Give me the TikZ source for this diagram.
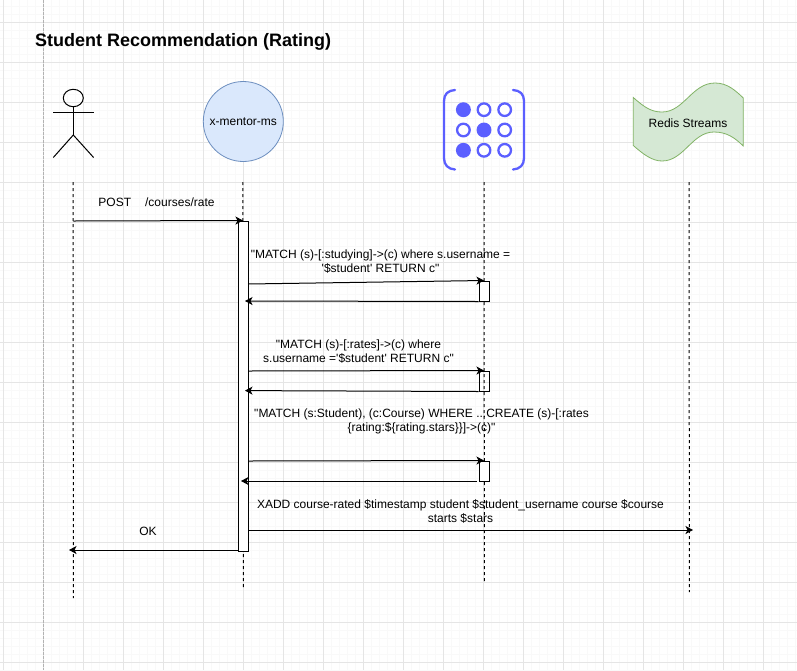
\documentclass[tikz,border=0pt]{standalone}
\usepackage{fontspec}
\usepackage{tikz}
\usetikzlibrary{arrows.meta}
\newfontfamily\diagfont{Liberation Sans}
\definecolor{neoblue}{HTML}{5B5FFF}
\definecolor{mentoredge}{HTML}{6C8EBF}
\definecolor{mentorfill}{HTML}{DAE8FC}
\definecolor{streamedge}{HTML}{82B366}
\definecolor{streamfill}{HTML}{D5E8D4}

\begin{document}
\begin{tikzpicture}[
  x=1pt,y=-1pt,
  every node/.style={font=\diagfont\fontsize{12}{14}\selectfont,align=center,inner sep=0pt},
  ttl/.style={font=\diagfont\bfseries\fontsize{18}{22}\selectfont,anchor=west},
  minorgrid/.style={draw=black!2.5,line width=0.8pt},
  majorgrid/.style={draw=black!10,line width=0.9pt},
  pagebrk/.style={draw=black!30,line width=0.8pt,dash pattern=on 3pt off 1pt},
  stick/.style={draw=black,line width=1pt},
  life/.style={draw=black,line width=1pt,dash pattern=on 3pt off 3pt},
  act/.style={draw=black,fill=white,line width=1pt,minimum width=10pt},
  actopen/.style={act,fill=none},
  msg/.style={draw=black,line width=1pt,-{Stealth[length=7.5pt,width=8pt,inset=2pt]}},
  neoline/.style={draw=neoblue,line width=2.3pt},
  neodot/.style={circle,neoline,minimum size=12.6pt,fill=white},
  neofull/.style={neodot,fill=neoblue}]

\useasboundingbox (0,0) rectangle (797,670);
\fill[white] (0,0) rectangle (797,670);

% ---- page grid ----
\foreach \k in {0,...,99} \draw[minorgrid] ({3.3+8*\k},0)--({3.3+8*\k},670);
\foreach \k in {-2,...,81} \draw[minorgrid] (0,{22+8*\k})--(797,{22+8*\k});
\foreach \k in {0,...,19} \draw[majorgrid] ({3.3+40*\k},0)--({3.3+40*\k},670);
\foreach \k in {0,...,16} \draw[majorgrid] (0,{22+40*\k})--(797,{22+40*\k});
\draw[pagebrk] (43.3,0)--(43.3,670);

\node[ttl] (title) at (35,42.3) {Student Recommendation (Rating)};

% ---- actor ----
\draw[stick] (73.3,98) ellipse (10 and 8.7);
\draw[stick] (73.3,106.7)--(73.3,135);
\draw[stick] (53.3,112)--(93.6,112);
\draw[stick] (53.3,157.5)--(73.3,135)--(93.6,157.5);

% ---- service ----
\node[circle,draw=mentoredge,fill=mentorfill,minimum size=80pt,line width=0.8pt] (mentor) at (243.3,121.5) {x-mentor-ms};

% ---- graph database icon ----
\draw[neoline,line cap=round] (455,90) .. controls (448,90.5) and (444,94) .. (444,101)
  -- (444,158) .. controls (444,165) and (448,169) .. (455,169.5);
\draw[neoline,line cap=round] (513,90) .. controls (520,90.5) and (524,94) .. (524,101)
  -- (524,158) .. controls (524,165) and (520,169) .. (513,169.5);
\node[neofull] (d11) at (463.4,109.7) {};
\node[neodot]  (d12) at (484,109.7)   {};
\node[neodot]  (d13) at (504.7,109.7) {};
\node[neodot]  (d21) at (463.4,130)   {};
\node[neofull] (d22) at (484,130)     {};
\node[neodot]  (d23) at (504.7,130)   {};
\node[neofull] (d31) at (463.4,150.3) {};
\node[neodot]  (d32) at (484,150.3)   {};
\node[neodot]  (d33) at (504.7,150.3) {};

% ---- stream flag ----
\draw[draw=streamedge,fill=streamfill,line width=0.8pt] (633.3,97.5)
  .. controls (645,108) and (652,112) .. (662,112)
  .. controls (684,112) and (692,83) .. (715,83)
  .. controls (727,83) and (735,90) .. (743.3,98)
  -- (743.3,146)
  .. controls (735,138) and (727,132) .. (714,132)
  .. controls (692,132) and (684,161) .. (662,161)
  .. controls (652,161) and (643,154) .. (633.3,145.5) -- cycle;
\node (redis) at (688,123) {Redis Streams};

% ---- lifelines ----
\coordinate (actorT)  at (73,182);   \coordinate (actorB)  at (73.4,598);
\coordinate (mentorT) at (242.8,182);\coordinate (mentorB) at (243.4,589);
\coordinate (neoT)    at (484,182);  \coordinate (neoB)    at (484.4,582);
\coordinate (redisT)  at (689,182);  \coordinate (redisB)  at (689.4,592);
\foreach \s/\t in {actorT/actorB,mentorT/mentorB,neoT/neoB,redisT/redisB} \draw[life] (\s)--(\t);

% ---- activations ----
\node[act,minimum height=330pt]     (mbox) at (243,386)   {};
\node[act,minimum height=20pt]      (nb1)  at (484,291)   {};
\node[actopen,minimum height=20pt]  (nb2)  at (484,381)   {};
\node[act,minimum height=20pt]      (nb3)  at (484,471)   {};

% ---- message ends ----
\coordinate (post)  at (73.3,221);
\coordinate (q1)    at (248,284);
\coordinate (r1)    at (245,301);
\coordinate (q2)    at (248,371);
\coordinate (r2)    at (245,390.6);
\coordinate (q3)    at (248,461);
\coordinate (r3s)   at (477,481);
\coordinate (r3)    at (241,481);
\coordinate (xa)    at (248,530);
\coordinate (xb)    at (693,530);
\coordinate (oka)   at (238,550);
\coordinate (okb)   at (69,550);
\foreach \s/\t in {post/mbox.north,q1/nb1.north,nb1.south west/r1,q2/nb2.north,nb2.south west/r2,
  q3/nb3.north,r3s/r3,xa/xb,oka/okb} \draw[msg] (\s)--(\t);

% ---- labels ----
\node (lpost) at (156.5,202) {POST\hspace{14pt}/courses/rate};
\node (lq1) at (380.5,261.5) {"MATCH (s)-[:studying]->(c) where s.username =\\'\$student' RETURN c"};
\node (lq2) at (358.5,351.5) {"MATCH (s)-[:rates]->(c) where\\s.username ='\$student' RETURN c"};
\node (lq3) at (421.5,421.5) {"MATCH (s:Student), (c:Course) WHERE ...CREATE (s)-[:rates\\\{rating:\$\{rating.stars\}\}]->(c)"};
\node (lxa) at (460.5,511.5) {XADD course-rated \$timestamp student \$student\_username course \$course\\starts \$stars};
\node (lok) at (148,531) {OK};
\end{tikzpicture}
\end{document}
